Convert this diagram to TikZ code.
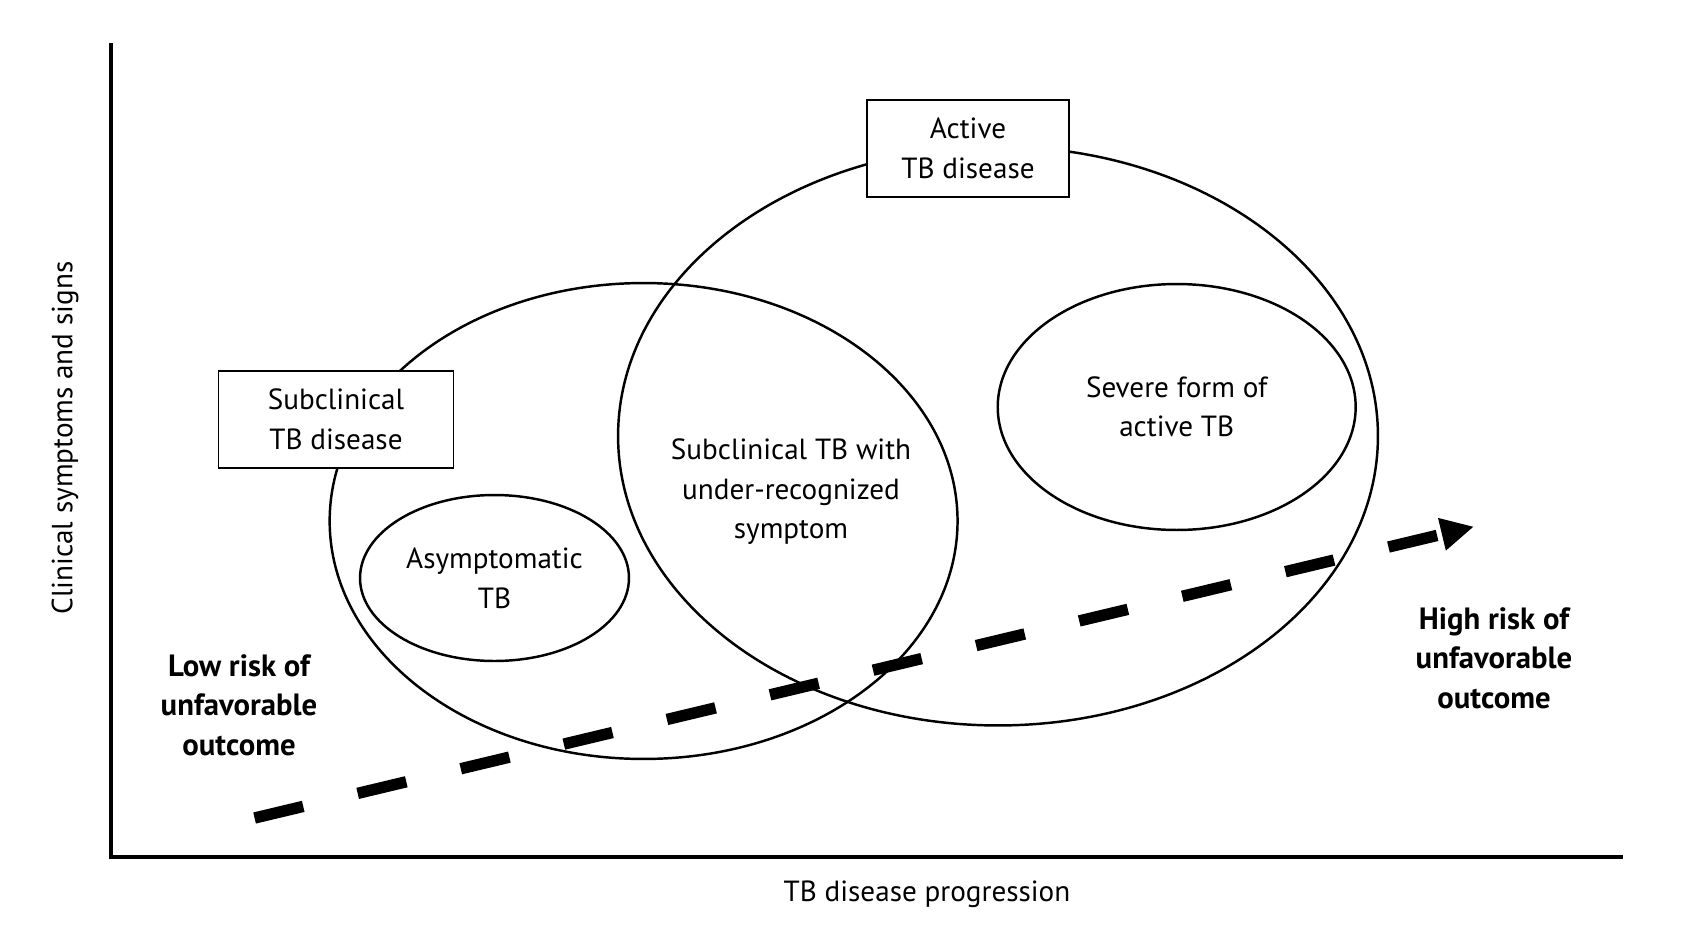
\documentclass[tikz,border=0pt]{standalone}
\usepackage{fontspec}
\setmainfont{PT Sans}
\usetikzlibrary{positioning}
\usetikzlibrary{arrows.meta}
\usetikzlibrary{shapes.geometric}

\tikzset{
  stage/.style={draw, ellipse, line width=1.4pt, inner sep=0pt, align=center},
  labelbox/.style={draw, fill=white, line width=1.1pt, inner sep=0pt, align=center,
    minimum height=1.94cm},
  risk/.style={align=center, font=\fontsize{17.5}{22.5}\selectfont\bfseries},
}

\begin{document}
\begin{tikzpicture}[x=0.02cm, y=-0.02cm, font=\fontsize{16.6}{22.5}\selectfont]
\useasboundingbox (0,0) rectangle (1706,933);

% Axes
\coordinate (ytop) at (111,43);
\coordinate (origin) at (111,857);
\coordinate (xend) at (1623,857);
\draw[line width=2.3pt] (ytop) -- (origin) -- (xend);
\node[rotate=90] (ylabel) at (65,438) {Clinical symptoms and signs};
\node (xlabel) at (927,894) {TB disease progression};

% Active TB disease
\node[stage, minimum width=15.2cm, minimum height=11.58cm] (active) at (998,436) {};

% Subclinical TB disease
\node[stage, minimum width=12.56cm, minimum height=9.52cm] (subclinical) at (643.6,521) {};

% Asymptomatic TB
\node[stage, minimum width=5.38cm, minimum height=3.32cm] (asympt) at (494.5,578)
  {Asymptomatic\\TB};

% Severe form
\node[stage, minimum width=7.16cm, minimum height=4.92cm] (severe) at (1176.7,407)
  {Severe form of\\active TB};

% Overlap
\node[align=center] (underrec) at (791,492)
  {Subclinical TB with\\under-recognized\\symptom};

% Boxes
\node[labelbox, minimum width=4.04cm] (activebox) at (968,148.5) {Active\\TB disease};
\node[labelbox, minimum width=4.7cm] (subbox) at (336,419.5) {Subclinical\\TB disease};

% Risk arrow
\coordinate (lowend) at (254.6,818);
\coordinate (highend) at (1474,526.6);
\draw[line width=6.5pt, dash pattern=on 1cm off 1.12cm,
    -{Triangle[length=0.66cm, width=0.62cm]}] (lowend) -- (highend);

\node[risk] (lowrisk) at (239,705) {Low risk of\\unfavorable\\outcome};
\node[risk] (highrisk) at (1494,658) {High risk of\\unfavorable\\outcome};

\end{tikzpicture}
\end{document}
